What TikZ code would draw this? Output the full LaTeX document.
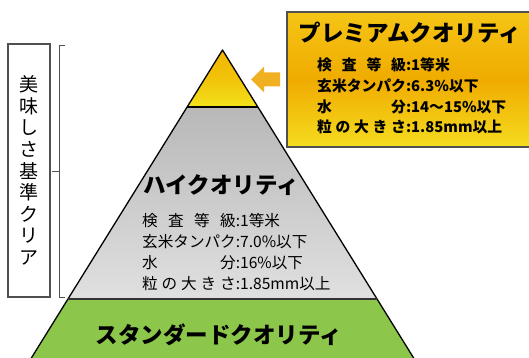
\documentclass[tikz,border=0pt]{standalone}
\usepackage{fontspec}
\setmainfont{Noto Sans CJK JP}
\usetikzlibrary{positioning}
\definecolor{TopOrange}{HTML}{F1B600}
\definecolor{TopYellow}{HTML}{F3E21C}
\definecolor{HighGrayTop}{HTML}{B8B8B8}
\definecolor{HighGrayBot}{HTML}{E0E0E0}
\definecolor{StdGreen}{HTML}{8CC64B}
\definecolor{ArrowOrange}{HTML}{F1B021}
\definecolor{BoxTop}{HTML}{F5C516}
\definecolor{BoxMid}{HTML}{F0AB00}
\definecolor{BoxBot}{HTML}{F5DC20}
\definecolor{FrameGray}{HTML}{505050}
% spread label over a fixed width, then colon and value
\newcommand{\specline}[3][6em]{\makebox[#1][s]{#2}:#3}

\begin{document}
\begin{tikzpicture}[x=1pt, y=-1pt,
  title/.style={font=\fontsize{22.5}{27}\selectfont\bfseries, inner sep=0},
  spec/.style={align=left, inner sep=0, anchor=west},
  edge/.style={draw=black, line width=1.3pt, line join=round}]
\clip (0,0) rectangle (529,358);
% --- Pyramid: standard level ---
\fill[StdGreen] (68.1,299) -- (376.9,299) -- (418,365) -- (27,365) -- cycle;
% --- Pyramid: high level ---
\shade[top color=HighGrayTop, bottom color=HighGrayBot]
  (187.2,107) -- (257.8,107) -- (376.9,299) -- (68.1,299) -- cycle;
% --- Pyramid: premium level ---
\shade[top color=TopOrange, bottom color=TopYellow, middle color=TopOrange!70!TopYellow]
  (222.5,50) -- (257.8,107) -- (187.2,107) -- cycle;
% outline and level lines
\draw[edge] (27,365) -- (222.5,50) -- (418,365);
\draw[edge] (187.2,107) -- (257.8,107);
\draw[edge, draw=black!80] (68.1,299) -- (376.9,299);

\node[title] (stdtitle) at (219,335) {スタンダードクオリティ};
\node[title] (hightitle) at (221.5,185) {ハイクオリティ};
\node[spec, font=\fontsize{15.6}{21}\selectfont] (highspec) at (142,252.5) {%
  \specline{検\hfill 査\hfill 等\hfill 級}{1等米}\\
  \specline{玄米タンパク}{7.0\%以下}\\
  \specline{水\hfill 分}{16\%以下}\\
  \specline{粒\hfill の\hfill 大\hfill き\hfill さ}{1.85mm以上}};

% --- Premium box and arrow ---
\shade[top color=BoxTop, bottom color=BoxBot, middle color=BoxMid]
  (287,12) rectangle (540,147);
\draw[FrameGray, line width=1.5pt] (540,12) -- (287,12) -- (287,147) -- (540,147);
\fill[ArrowOrange] (251,79.5) -- (264,66.5) -- (264,72.5) -- (280,72.5)
  -- (280,86.5) -- (264,86.5) -- (264,92.5) -- cycle;
\node[title] (premtitle) at (410,33) {プレミアムクオリティ};
\node[spec, font=\fontsize{14.8}{20.7}\selectfont\bfseries] (premspec) at (317,96) {%
  \specline{検\hfill 査\hfill 等\hfill 級}{1等米}\\
  \specline{玄米タンパク}{6.3\%以下}\\
  \specline{水\hfill 分}{14～15\%以下}\\
  \specline{粒\hfill の\hfill 大\hfill き\hfill さ}{1.85mm以上}};

% --- Criteria box and bracket ---
\node[draw=FrameGray, line width=1.4pt, minimum width=42, minimum height=253,
  inner sep=0, align=center, font=\fontsize{19}{21.6}\selectfont] (critbox) at (29,170.5)
  {美\\味\\し\\さ\\基\\準\\ク\\リ\\ア};
\draw[FrameGray, line width=0.9pt] (65,45) -- (59,45) -- (59,297) -- (65,297);
\draw[FrameGray, line width=0.9pt] (59,171) -- (52,171);
\end{tikzpicture}
\end{document}
